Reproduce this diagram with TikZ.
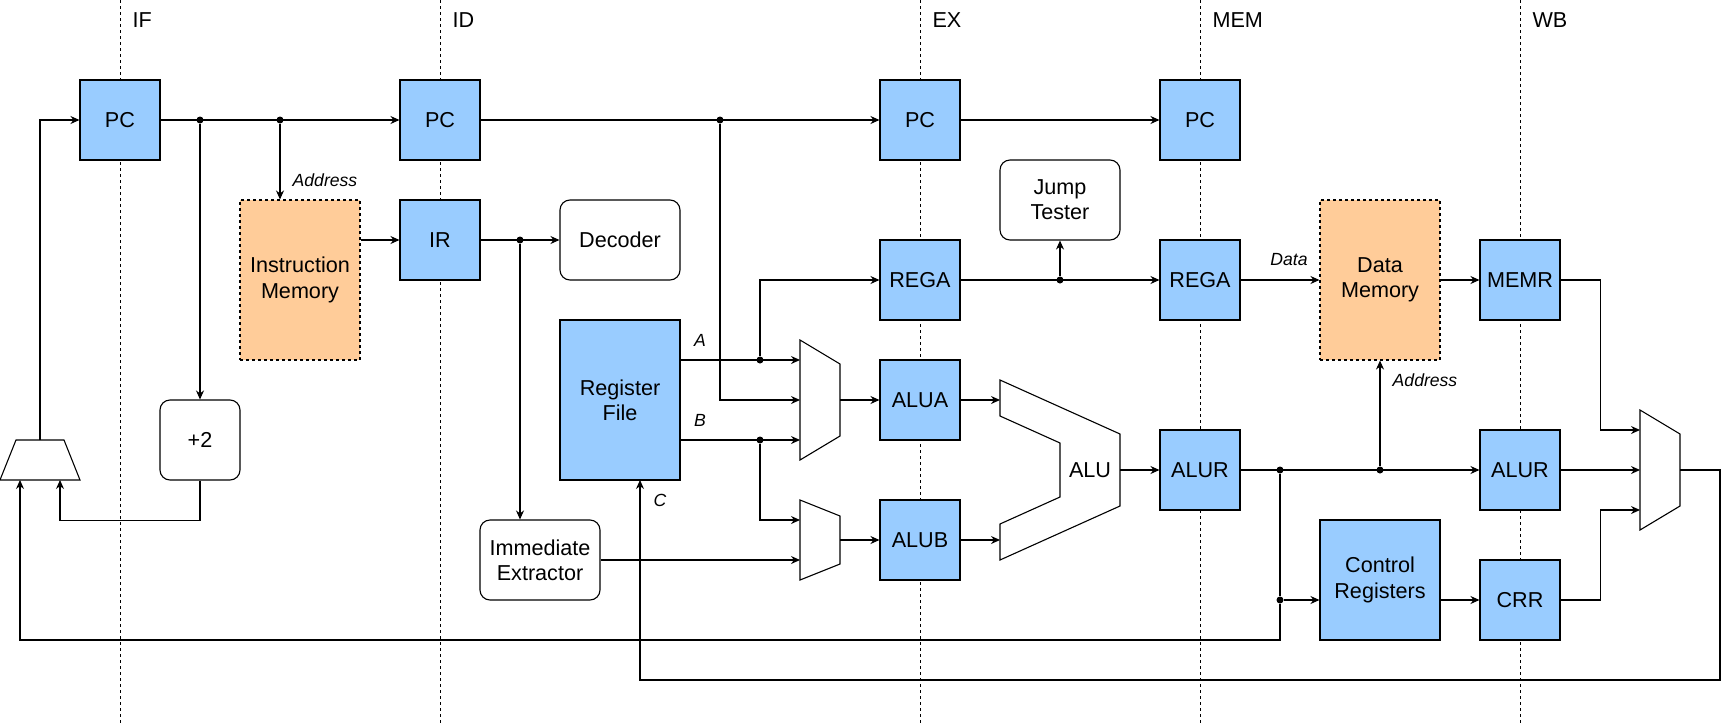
\documentclass[tikz,border=0pt]{standalone}
\usepackage{fontspec}
\setmainfont{Liberation Sans}
\usepackage{xcolor}
\usetikzlibrary{arrows.meta,positioning,calc}
\definecolor{regblue}{HTML}{99CCFF}
\definecolor{memorange}{HTML}{FFCC99}

\begin{document}
\begin{tikzpicture}[>={Stealth[length=4.5pt,width=4pt]},x=0.5pt,y=-0.5pt,line width=0.55pt,
  font=\fontsize{10.8}{12.6}\selectfont]
\tikzstyle{reg}=[draw,fill=regblue,minimum width=40pt,minimum height=40pt,inner sep=0pt,align=center]
\tikzstyle{mem}=[draw,dash pattern=on 1.5pt off 1.5pt,fill=memorange,minimum width=60pt,minimum height=80pt,inner sep=0pt,align=center]
\tikzstyle{unit}=[draw,rounded corners=5pt,minimum width=60pt,minimum height=40pt,inner sep=0pt,align=center]
\tikzstyle{dot}=[circle,fill,inner sep=0pt,minimum size=3.5pt]
\tikzstyle{sig}=[inner sep=0pt,font=\fontsize{8.8}{10}\selectfont\itshape]
\tikzstyle{stage}=[dash pattern=on 1.5pt off 1.5pt,line width=0.4pt]
\useasboundingbox (0,0) rectangle (1730,723);

% pipeline stages
\foreach \x/\s in {120/IF,440/ID,920/EX,1200/MEM,1520/WB}{
  \draw[stage] (\x,0) -- (\x,723);
  \node[anchor=west,inner sep=0pt] (st\s) at (\x+12,20) {\s};
}

% registers and units
\node[reg] (PCf) at (120,120) {PC};
\node[reg] (PCd) at (440,120) {PC};
\node[reg] (PCe) at (920,120) {PC};
\node[reg] (PCm) at (1200,120) {PC};
\node[mem] (IM) at (300,280) {Instruction\\Memory};
\node[reg] (IR) at (440,240) {IR};
\node[unit] (Dec) at (620,240) {Decoder};
\node[reg,minimum width=60pt,minimum height=80pt] (RF) at (620,400) {Register\\File};
\node[unit] (Imm) at (540,560) {Immediate\\Extractor};
\node[unit,minimum width=40pt] (Inc) at (200,440) {+2};
\node[unit] (JT) at (1060,200) {Jump\\Tester};
\node[reg] (REGAe) at (920,280) {REGA};
\node[reg] (REGAm) at (1200,280) {REGA};
\node[reg] (ALUA) at (920,400) {ALUA};
\node[reg] (ALUB) at (920,540) {ALUB};
\node[reg] (ALURm) at (1200,470) {ALUR};
\node[mem] (DM) at (1380,280) {Data\\Memory};
\node[reg,minimum width=60pt,minimum height=60pt] (CR) at (1380,580) {Control\\Registers};
\node[reg] (MEMR) at (1520,280) {MEMR};
\node[reg] (ALURw) at (1520,470) {ALUR};
\node[reg] (CRR) at (1520,600) {CRR};

% muxes and ALU
\draw (0,480) -- (16,440) -- (64,440) -- (80,480) -- cycle;
\coordinate (PCmo) at (40,440);
\coordinate (PCma) at (20,480);
\coordinate (PCmb) at (60,480);
\draw (800,340) -- (840,364) -- (840,436) -- (800,460) -- cycle;
\coordinate (MAa) at (800,360);
\coordinate (MAb) at (800,400);
\coordinate (MAc) at (800,440);
\coordinate (MAo) at (840,400);
\draw (800,500) -- (840,516) -- (840,564) -- (800,580) -- cycle;
\coordinate (MBa) at (800,520);
\coordinate (MBb) at (800,560);
\coordinate (MBo) at (840,540);
\draw (1000,380) -- (1120,434) -- (1120,506) -- (1000,560) -- (1000,524)
  -- (1060,497) -- (1060,443) -- (1000,416) -- cycle;
\node (ALU) at (1090,470) {ALU};
\coordinate (ALUi1) at (1000,400);
\coordinate (ALUi2) at (1000,540);
\coordinate (ALUo) at (1120,470);
\draw (1640,410) -- (1680,434) -- (1680,506) -- (1640,530) -- cycle;
\coordinate (WMa) at (1640,430);
\coordinate (WMb) at (1640,470);
\coordinate (WMc) at (1640,510);
\coordinate (WMo) at (1680,470);
\coordinate (RFc) at (640,480);

% junctions
\node[dot] (j1) at (200,120) {};
\node[dot] (j2) at (280,120) {};
\node[dot] (j3) at (520,240) {};
\node[dot] (j4) at (720,120) {};
\node[dot] (j5) at (760,360) {};
\node[dot] (j6) at (760,440) {};
\node[dot] (j7) at (1060,280) {};
\node[dot] (j8) at (1280,470) {};
\node[dot] (j9) at (1380,470) {};
\node[dot] (j10) at (1280,600) {};

% straight connections
\path[->]
  (PCf) edge (PCd)
  (PCd) edge (PCe)
  (PCe) edge (PCm)
  (j1) edge (Inc)
  (j2) edge (j2 |- IM.north)
  (IM.east |- IR) edge (IR)
  (IR) edge (Dec)
  (j3) edge (j3 |- Imm.north)
  (RF.east |- MAa) edge (MAa)
  (RF.east |- MAc) edge (MAc)
  (Imm.east) edge (MBb)
  (MAo) edge (ALUA)
  (MBo) edge (ALUB)
  (ALUA) edge (ALUi1)
  (ALUB) edge (ALUi2)
  (ALUo) edge (ALURm)
  (REGAe) edge (REGAm)
  (j7) edge (JT)
  (REGAm) edge (DM)
  (DM) edge (MEMR)
  (ALURm) edge (ALURw)
  (j9) edge (DM)
  (CR.east |- CRR) edge (CRR)
  (ALURw) edge (WMb);

% routed connections
\draw[->] (PCmo) |- (PCf);
\draw[->] (Inc.south) -- ++(0,40) -| (PCmb);
\draw[->] (j4) |- (MAb);
\draw[->] (j5) |- (REGAe);
\draw[->] (j6) |- (MBa);
\draw[->] (j8) -- (j10) -- (j10 -| CR.west);
\draw[->] (j10) -- ++(0,40) -| (PCma);
\draw[->] (MEMR.east) -- ++(40,0) |- (WMa);
\draw[->] (CRR.east) -- ++(40,0) |- (WMc);
\draw[->] (WMo) -- ++(40,0) -- ++(0,210) -| (RFc);

% signal labels
\node[sig] (lAddrI) at (325,180) {Address};
\node[sig] (lA) at (700,340) {A};
\node[sig] (lB) at (700,420) {B};
\node[sig] (lC) at (660,500) {C};
\node[sig] (lData) at (1289,260) {Data};
\node[sig] (lAddrD) at (1425,380) {Address};
\end{tikzpicture}
\end{document}
